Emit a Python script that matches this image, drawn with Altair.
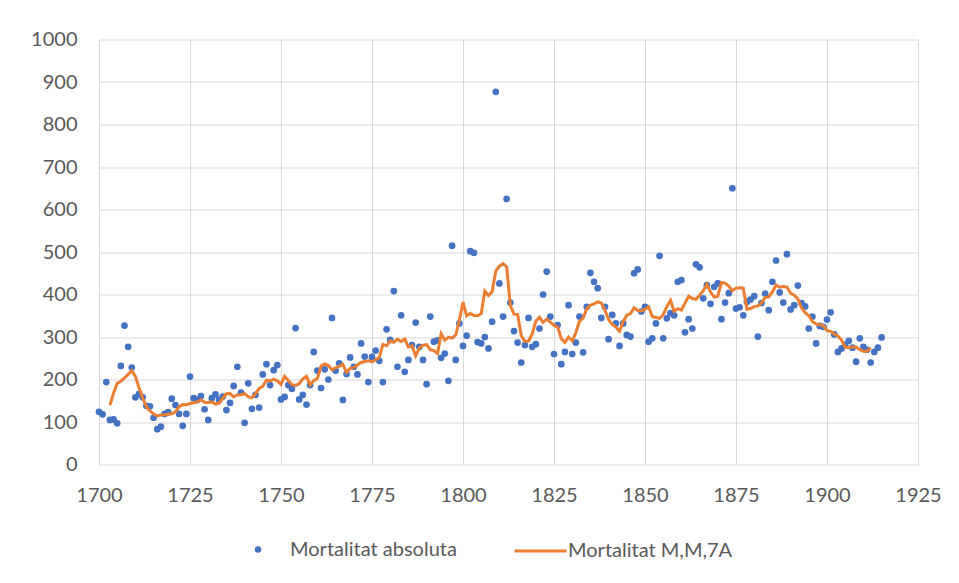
import altair as alt
import pandas as pd

anys = list(range(1700, 1916))

mortalitat = [
    124, 118, 194, 105, 106, 97, 232, 327, 277, 228,      # 1700-1709
    158, 166, 158, 138, 137, 110, 83, 89, 119, 123,       # 1710-1719
    155, 140, 119, 91, 119, 207, 156, 152, 161, 130,      # 1720-1729
    105, 156, 165, 152, 160, 128, 145, 185, 230, 169,     # 1730-1739
    98, 191, 131, 164, 134, 212, 236, 187, 222, 234,      # 1740-1749
    153, 159, 187, 178, 321, 153, 164, 141, 187, 265,     # 1750-1759
    221, 180, 224, 200, 345, 221, 238, 152, 213, 252,     # 1760-1769
    230, 212, 285, 254, 194, 253, 268, 244, 194, 318,     # 1770-1779
    293, 408, 230, 351, 218, 246, 281, 334, 277, 246,     # 1780-1789
    189, 348, 289, 292, 251, 261, 197, 515, 246, 332,     # 1790-1799
    279, 303, 502, 498, 288, 285, 300, 273, 336, 877,     # 1800-1809
    426, 348, 625, 381, 314, 287, 240, 281, 345, 277,     # 1810-1819
    283, 320, 400, 454, 348, 260, 328, 236, 265, 375,     # 1820-1829
    260, 287, 348, 264, 371, 451, 430, 415, 345, 371,     # 1830-1839
    295, 352, 332, 279, 332, 305, 301, 450, 459, 360,     # 1840-1849
    371, 289, 297, 332, 491, 297, 344, 356, 351, 430,     # 1850-1859
    434, 311, 342, 320, 471, 464, 391, 422, 378, 418,     # 1860-1869
    426, 342, 381, 403, 650, 367, 370, 351, 383, 388,     # 1870-1879
    396, 301, 380, 402, 363, 430, 480, 405, 381, 495,     # 1880-1889
    365, 375, 421, 380, 372, 320, 348, 285, 326, 324,     # 1890-1899
    341, 358, 306, 265, 273, 282, 291, 275, 242, 297,     # 1900-1909
    277, 270, 240, 265, 275, 299,                         # 1910-1915
]

x_ticks = list(range(1700, 1926, 25))
y_ticks = list(range(0, 1001, 100))

serie_punts = "Mortalitat absoluta"
serie_mm = "Mortalitat M,M,7A"

df = pd.DataFrame({"any": anys, "mort": mortalitat})

FONT = "Lato"
TXT = "#595959"
GRID = "#D9D9D9"

x_enc = alt.X(
    "any:Q",
    scale=alt.Scale(domain=[1700, 1925], nice=False, zero=False),
    axis=alt.Axis(values=x_ticks, title=None, format="d", grid=True,
                  gridColor=GRID, gridWidth=1, domain=False, ticks=False,
                  tickSize=0, labelPadding=21, labelFont=FONT,
                  labelFontSize=20, labelColor=TXT, labelFlush=False,
                  labelOverlap=False),
)

y_axis = alt.Axis(values=y_ticks, title=None, format="d", grid=True,
                  gridColor=GRID, gridWidth=1, domain=False, ticks=False,
                  tickSize=0, labelPadding=22, labelFont=FONT,
                  labelFontSize=20, labelColor=TXT, labelFlush=False,
                  labelOverlap=False)
y_scale = alt.Scale(domain=[0, 1000], nice=False)

points = alt.Chart(df).transform_calculate(
    serie=f"'{serie_punts}'"
).mark_circle(size=45, opacity=1).encode(
    x=x_enc,
    y=alt.Y("mort:Q", scale=y_scale, axis=y_axis),
    color=alt.Color(
        "serie:N",
        scale=alt.Scale(domain=[serie_punts], range=["#4472C4"]),
        legend=alt.Legend(title=None, orient="none", legendX=149, legendY=500,
                          padding=0, symbolType="circle", symbolSize=42,
                          labelOffset=22, labelLimit=0, labelFont=FONT,
                          labelFontSize=20, labelColor=TXT),
    ),
)

line = alt.Chart(df).transform_window(
    mm="mean(mort)", n="count(mort)", frame=[-3, 3],
    sort=[alt.SortField("any")],
).transform_filter("datum.n == 7").transform_calculate(
    serie2=f"'{serie_mm}'"
).mark_line(strokeWidth=3).encode(
    x=x_enc,
    y=alt.Y("mm:Q", scale=y_scale, axis=y_axis),
    stroke=alt.Stroke(
        "serie2:N",
        scale=alt.Scale(domain=[serie_mm], range=["#ED7D31"]),
        legend=alt.Legend(title=None, orient="none", legendX=414, legendY=484,
                          padding=0, symbolType="stroke", symbolSize=2704,
                          symbolStrokeWidth=3, labelOffset=0, labelLimit=0,
                          labelFont=FONT, labelFontSize=20, labelColor=TXT),
    ),
)

chart = alt.layer(points, line).properties(
    width=819,
    height=425,
    autosize=alt.AutoSizeParams(type="none"),
    padding={"left": 91, "top": 31.5, "right": 33, "bottom": 100},
    background="white",
).configure_view(stroke=None)

chart.save("out.html", embed_options={"renderer": "svg", "actions": False})
